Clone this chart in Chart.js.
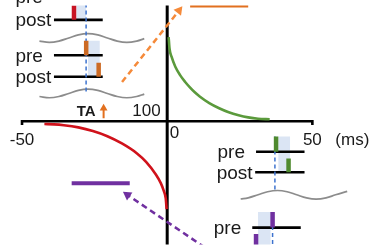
<!DOCTYPE html>
<html><head><meta charset="utf-8">
<script src="https://cdn.jsdelivr.net/npm/chart.js@4.4.1/dist/chart.umd.min.js"></script>
<style>html,body{margin:0;padding:0;background:#fff}canvas{display:block}</style>
</head><body>
<canvas id="c" width="380" height="250"></canvas>
<script>
// ---- data: spike-timing difference (ms) vs synaptic weight (%, 100 = baseline)
const ltpTime   = [0.5, 0.8, 1.5, 2.8, 4.5, 6.2, 7.9, 9.5, 11.2, 14.5, 17.9, 21.2, 24.6, 27.9, 31.3, 35.3];
const ltpWeight = [188, 176, 167.4, 157, 147.9, 141, 135.1, 130.2, 125.9, 118.9, 113.5, 109.3, 106.2, 104, 102.6, 102];
const ltdTime   = [-42.3, -39.0, -35.6, -30.6, -25.6, -20.6, -15.6, -10.5, -7.2, -3.9, -2.2, -1.2, -0.5, -0.2];
const ltdWeight = [97, 96.7, 95.8, 93.5, 89.7, 84.3, 76.7, 66.5, 57.2, 44.3, 35.2, 27.3, 19.2, 8];
const taLtpTime = [7.9, 27.9];   const taLtpWeight = [221, 221];
const taLtdTime = [-32.9, -12.9]; const taLtdWeight = [35, 35];
const xTickValues = [-50, 0, 50];
const xTickLabels = ['-50', '0', '50'];
const xUnit = '(ms)';
const baseline = 100;
const baselineLabel = '100';
const taLabel = 'TA';
const taTime = -21.9; const taFrom = 103; const taTo = 118;

// inset schematics (same time / weight units)
const insetLines = [
  {label:'pre',  from:-39.0, to:-22.2, level:230},
  {label:'post', from:-39.0, to:-22.2, level:206},
  {label:'pre',  from:-39.0, to:-22.2, level:169},
  {label:'post', from:-39.0, to:-22.2, level:146.5},
  {label:'pre',  from:30.6,  to:47.3,  level:68},
  {label:'post', from:30.3,  to:47.3,  level:46.5},
  {label:'pre',  from:29.3,  to:46.0,  level:-11.3}
];
const spikes = [
  {kind:'red',    t:-32.1, from:206,   to:221},
  {kind:'orange', t:-27.9, from:169,   to:184},
  {kind:'orange', t:-23.6, from:146.5, to:161},
  {kind:'green',  t:37.5,  from:68,    to:84},
  {kind:'green',  t:41.8,  from:46.5,  to:61},
  {kind:'purple', t:36.3,  from:-11.3, to:5},
  {kind:'purple', t:30.6,  from:-33,   to:-18}
];
const shades = [
  {from:-31.27, to:-27.93, bottom:206,  top:245},
  {from:-27.26, to:-23.24, bottom:146.5, top:184},
  {from:38.29,  to:42.31,  bottom:46.5, top:84},
  {from:31.27,  to:35.62,  bottom:-40,  top:5}
];
const guides = [
  {t:-27.93, from:245, to:131},
  {t:37.1,   from:84,  to:26},
  {t:36.3,   from:5,   to:-40}
];
const waveLeftTime = [-44.0,-40.6,-37.3,-33.9,-30.6,-27.3,-23.9,-20.6,-17.2,-13.9,-10.5,-7.9];
const wave1Level   = [183.8,182.5,183.8,187,190.2,191.5,190.2,187,183.8,182.5,183.8,186.3];
const wave2Level   = [125.8,124.5,125.8,129,132.2,133.5,132.2,129,125.8,124.5,125.8,128.3];
const waveRightTime  = [25.3,27.9,31.3,34.6,38.0,41.3,44.6,48.0,51.3,54.7,58.0,62.0];
const waveRightLevel = [18.6,19.8,23,26.2,27.5,26.2,23,19.8,18.5,19.8,23,26.6];
const arrowLtp = {tail:[-15.55, 141], tip:[5.2, 220]};
const arrowLtd = {tail:[12.9, -32],  tip:[-15.2, 26]};

// ---- scales
const X_MIN = -55.69, X_MAX = 71.40, Y_MIN = -29, Y_MAX = 221;
const W = 380, H = 250;
const pxPerMs = W/(X_MAX-X_MIN), pxPerUnit = H/(Y_MAX-Y_MIN);
function toPx(t,v){ return [(t-X_MIN)*pxPerMs, (Y_MAX-v)*pxPerUnit]; }
function toData(x,y){ return {x:X_MIN + x/pxPerMs, y:Y_MAX - y/pxPerUnit}; }
const zip = (xs, ys) => xs.map((x,i)=>({x, y:ys[i]}));

const COL = {
  black:'#000000', red:'#d0121b', green:'#5b9a3c', orange:'#e2701f', orangeDash:'#f58a3a',
  purple:'#7030a0', shade:'#dbe5f4', guide:'#3d73cf', wave:'#8c8c8c'
};
const spikeCol = {red:'#c81424', orange:'#cc6a24', green:'#4f8a2f', purple:'#7030a0'};

const datasets = [];
function add(ds){ datasets.push(Object.assign({type:'scatter', showLine:true, pointRadius:0, borderWidth:2, fill:false, tension:0, borderCapStyle:'butt'}, ds)); }

function arrow(a, r){
  const [x1,y1] = toPx(...a.tail), [x2,y2] = toPx(...a.tip);
  const L = Math.hypot(x2-x1, y2-y1), ux = (x2-x1)/L, uy = (y2-y1)/L;
  const rot = Math.atan2(ux, -uy)*180/Math.PI;
  return {
    line:[{x:a.tail[0], y:a.tail[1]}, toData(x2-ux*r*1.2, y2-uy*r*1.2)],
    head:[toData(x2-ux*r, y2-uy*r)], rot
  };
}

// 1 shades
shades.forEach(s => add({
  data:[{x:s.from,y:s.bottom},{x:s.to,y:s.bottom},{x:s.to,y:s.top},{x:s.from,y:s.top},{x:s.from,y:s.bottom}],
  fill:'shape', backgroundColor:COL.shade, borderColor:'rgba(0,0,0,0)', borderWidth:0.01
}));
// 2 axes
add({data:[{x:0,y:Y_MIN-20},{x:0,y:Y_MAX+20}], borderColor:COL.black, borderWidth:3});
add({data:[{x:xTickValues[0],y:baseline-4},{x:xTickValues[0],y:baseline},{x:xTickValues[2],y:baseline},{x:xTickValues[2],y:baseline-4}],
     borderColor:COL.black, borderWidth:2.6, borderJoinStyle:'miter'});
// 3 inset lines
insetLines.forEach(l => add({data:[{x:l.from,y:l.level},{x:l.to,y:l.level}], borderColor:COL.black, borderWidth:2.6}));
// 4 waves
[[waveLeftTime,wave1Level],[waveLeftTime,wave2Level],[waveRightTime,waveRightLevel]].forEach(([t,v]) =>
  add({data:zip(t,v), borderColor:COL.wave, borderWidth:1.7, tension:0.4}));
// 5 guides
guides.forEach(g => add({data:[{x:g.t,y:g.from},{x:g.t,y:g.to}], borderColor:COL.guide, borderWidth:1.5, borderDash:[4,3]}));
// 6 spikes
spikes.forEach(s => add({data:[{x:s.t,y:s.from},{x:s.t,y:s.to}], borderColor:spikeCol[s.kind], borderWidth:4.5}));
// 7 TA-modified plateaus
add({data:zip(taLtpTime,taLtpWeight), borderColor:COL.orange, borderWidth:4});
add({data:zip(taLtdTime,taLtdWeight), borderColor:COL.purple, borderWidth:4});
// 8 curves
add({data:zip(ltpTime,ltpWeight), borderColor:COL.green, borderWidth:2.6, cubicInterpolationMode:'monotone'});
add({data:zip(ltdTime,ltdWeight), borderColor:COL.red, borderWidth:2.6, cubicInterpolationMode:'monotone'});
// 9 dashed arrows
const aL = arrow(arrowLtp, 5.5), aD = arrow(arrowLtd, 5.5);
add({data:aL.line, borderColor:COL.orangeDash, borderWidth:2.5, borderDash:[6,4]});
add({data:aL.head, showLine:false, pointRadius:5.5, pointStyle:'triangle', pointRotation:aL.rot, backgroundColor:COL.orangeDash, pointBorderWidth:0, borderColor:'rgba(0,0,0,0)'});
add({data:aD.line, borderColor:COL.purple, borderWidth:2.5, borderDash:[6,4]});
add({data:aD.head, showLine:false, pointRadius:5.5, pointStyle:'triangle', pointRotation:aD.rot, backgroundColor:COL.purple, pointBorderWidth:0, borderColor:'rgba(0,0,0,0)'});
// 10 TA arrow
const aT = arrow({tail:[taTime,taFrom], tip:[taTime,taTo]}, 4.5);
add({data:aT.line, borderColor:COL.orange, borderWidth:2});
add({data:aT.head, showLine:false, pointRadius:4.5, pointStyle:'triangle', pointRotation:aT.rot, backgroundColor:COL.orange, pointBorderWidth:0, borderColor:'rgba(0,0,0,0)'});

datasets.forEach((d,i) => d.order = datasets.length - i);

const FONT = '"Liberation Sans", Arial, Helvetica, sans-serif';
const textPlugin = {
  id:'texts',
  afterDatasetsDraw(chart){
    const {ctx, scales:{x, y}} = chart;
    ctx.save();
    ctx.fillStyle = '#1a1a1a';
    ctx.textBaseline = 'alphabetic';
    const axisY = y.getPixelForValue(baseline);
    const axisX = x.getPixelForValue(0);
    ctx.font = '17px ' + FONT;
    xTickValues.forEach((t,i) => {
      const px = x.getPixelForValue(t);
      if (t === 0) { ctx.textAlign = 'left'; ctx.fillText(xTickLabels[i], px + 2.5, axisY + 17); }
      else { ctx.textAlign = 'center'; ctx.fillText(xTickLabels[i], px, axisY + 24); }
    });
    ctx.textAlign = 'left';
    ctx.fillText(xUnit, x.getPixelForValue(xTickValues[2]) + 23, axisY + 24);
    ctx.textAlign = 'right';
    ctx.fillText(baselineLabel, axisX - 6.5, axisY - 5);
    ctx.font = 'bold 15px ' + FONT;
    ctx.fillText(taLabel, x.getPixelForValue(taTime) - 8, axisY - 5);
    ctx.font = '19px ' + FONT;
    ctx.textAlign = 'left';
    insetLines.forEach(l => {
      ctx.fillText(l.label, x.getPixelForValue(l.from) - 38.5, y.getPixelForValue(l.level) + 6.5);
    });
    ctx.restore();
  }
};

new Chart(document.getElementById('c'), {
  type:'scatter',
  data:{datasets},
  options:{
    responsive:false, animation:false, devicePixelRatio:1, events:[],
    layout:{padding:0},
    plugins:{legend:{display:false}, tooltip:{enabled:false}},
    scales:{
      x:{type:'linear', min:X_MIN, max:X_MAX, display:false},
      y:{type:'linear', min:Y_MIN, max:Y_MAX, display:false}
    }
  },
  plugins:[textPlugin]
});
</script>
</body></html>
